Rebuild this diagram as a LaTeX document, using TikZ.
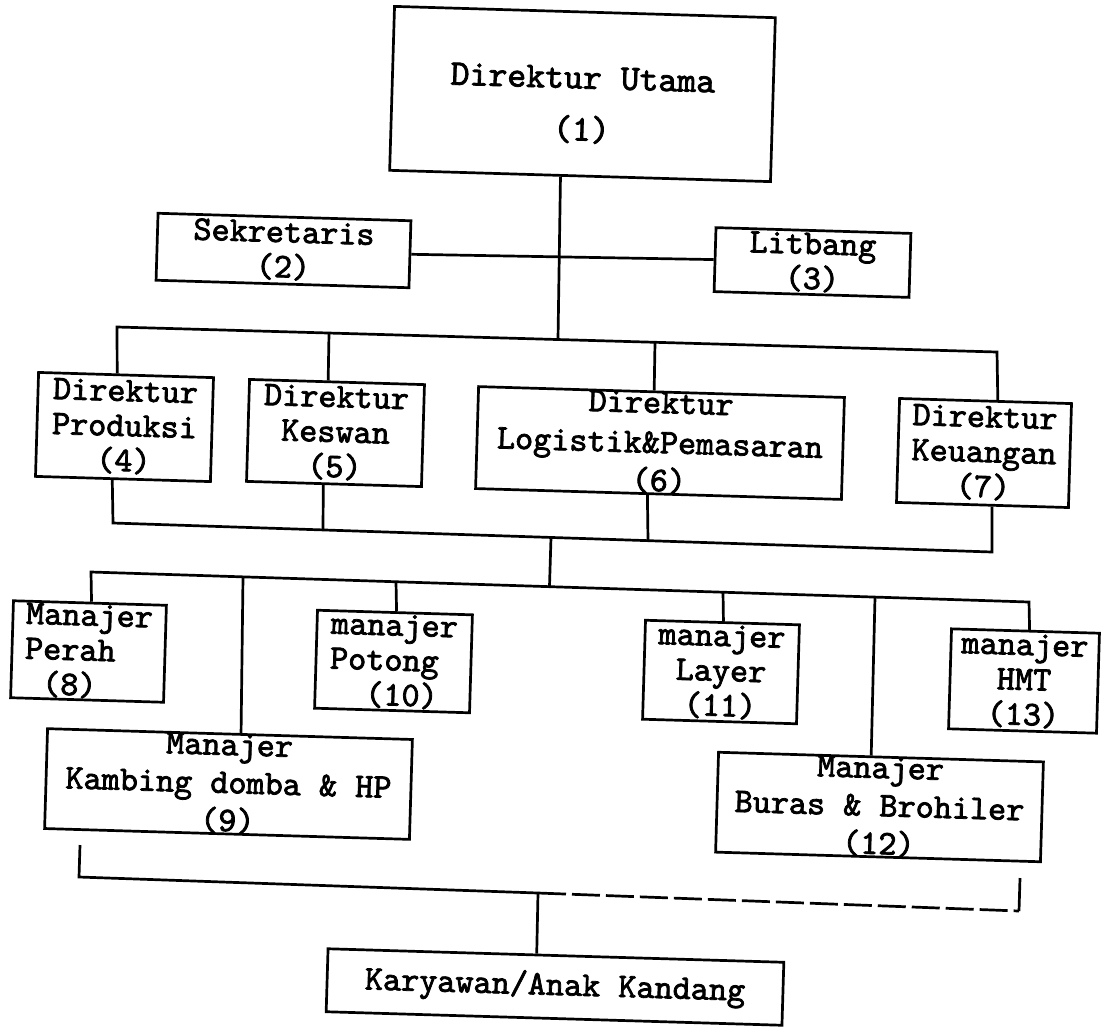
\documentclass[tikz,border=0pt]{standalone}
\usepackage{fontspec}
\newfontfamily\orgfont{lmmono10-regular.otf}[FakeBold=2.2]
\usetikzlibrary{calc}
\begin{document}
\begin{tikzpicture}[x=1pt,y=-1pt]
\tikzset{
  box/.style={draw, line width=2.7pt, rotate=-1.7, inner sep=0pt, align=center,
    font=\orgfont\fontsize{34.5}{35}\selectfont},
  lbox/.style={box, align=left},
  conn/.style={line width=2.7pt},
}
\fill[white] (0,0) rectangle (1102,1026);
\useasboundingbox (0,0) rectangle (1102,1026);

% boxes
\node[box, font=\orgfont\fontsize{36}{36}\selectfont, minimum width=381pt, minimum height=164pt] (b1) at (582.5,94) {\rule{0pt}{44pt}Direktur Utama\\[16pt](1)};
\node[box, minimum width=253pt, minimum height=67pt] (b2) at (283.5,250.5) {Sekretaris\\(2)};
\node[box, minimum width=195pt, minimum height=64pt] (b3) at (812.5,262.5) {Litbang\\(3)};
\node[box, minimum width=175pt, minimum height=104pt] (b4) at (124.5,427) {Direktur\\Produksi\\(4)};
\node[box, minimum width=175pt, minimum height=102pt] (b5) at (335.5,433) {Direktur\\Keswan\\(5)};
\node[box, minimum width=366pt, minimum height=102pt] (b6) at (660,443) {Direktur\\[5pt]Logistik\&Pemasaran\\[3pt](6)};
\node[box, minimum width=172pt, minimum height=104pt] (b7) at (984,453) {Direktur\\Keuangan\\(7)};
\node[lbox, minimum width=153pt, minimum height=97pt] (b8) at (88.5,651.5) {Manajer\\Perah\\\ (8)};
\node[box, minimum width=365pt, minimum height=96pt] (b9) at (228.5,784) {Manajer\\[3pt]Kambing domba \& HP\\[3pt](9)};
\node[lbox, minimum width=155pt, minimum height=98pt] (b10) at (393.5,661.5) {manajer\\Potong\\\ \ (10)};
\node[box, minimum width=154pt, minimum height=99pt] (b11) at (721,672) {manajer\\Layer\\(11)};
\node[box, minimum width=325pt, minimum height=98pt] (b12) at (879.5,807) {Manajer\\[3pt]Buras \& Brohiler\\[3pt](12)};
\node[box, minimum width=148pt, minimum height=100pt] (b13) at (1024,681) {manajer\\HMT\\(13)};
\node[box, minimum width=456pt, minimum height=63pt] (b14) at (555,987) {Karyawan/Anak Kandang};

% junction coordinates
\coordinate (u1) at (558,339);
\coordinate (bus1L) at (117,327);
\coordinate (bus1R) at (997,352);
\coordinate (j5) at (329,333);
\coordinate (j6) at (655,342);
\coordinate (bus2L) at (113,523);
\coordinate (bus2R) at (992,552);
\coordinate (k5) at (323,530);
\coordinate (k6) at (648,541);
\coordinate (kc) at (551,537.5);
\coordinate (mc) at (549.5,586);
\coordinate (bus3L) at (91,572);
\coordinate (bus3R) at (1029,602);
\coordinate (m9) at (243,577);
\coordinate (m10) at (396,582);
\coordinate (m11) at (723,592);
\coordinate (m12) at (875,597);
\coordinate (f1) at (80,845);
\coordinate (f2) at (79,877);
\coordinate (f3) at (538,893);
\coordinate (f4) at (1019,911);
\coordinate (f5) at (1020,878);

% connectors
\draw[conn] ($(b1.south west)!0.449!(b1.south east)$) -- (u1);
\draw[conn] (b2.east) -- (b3.west);
\draw[conn] ($(b4.north west)!0.45!(b4.north east)$) -- (bus1L) -- (bus1R) -- ($(b7.north west)!0.57!(b7.north east)$);
\draw[conn] (j5) -- ($(b5.north west)!0.45!(b5.north east)$);
\draw[conn] (j6) -- ($(b6.north west)!0.48!(b6.north east)$);

\draw[conn] ($(b4.south west)!0.44!(b4.south east)$) -- (bus2L) -- (bus2R) -- ($(b7.south west)!0.555!(b7.south east)$);
\draw[conn] ($(b5.south west)!0.44!(b5.south east)$) -- (k5);
\draw[conn] ($(b6.south west)!0.47!(b6.south east)$) -- (k6);
\draw[conn] (kc) -- (mc);

\draw[conn] ($(b8.north west)!0.51!(b8.north east)$) -- (bus3L) -- (bus3R) -- ($(b13.north west)!0.527!(b13.north east)$);
\draw[conn] (m9) -- ($(b9.north west)!0.53!(b9.north east)$);
\draw[conn] (m10) -- ($(b10.north west)!0.51!(b10.north east)$);
\draw[conn] (m11) -- ($(b11.north west)!0.506!(b11.north east)$);
\draw[conn] (m12) -- ($(b12.north west)!0.47!(b12.north east)$);

\draw[conn] (f1) -- (f2) -- (f3);
\draw[conn, dash pattern=on 28pt off 6pt] (f3) -- (f4);
\draw[conn] (f4) -- (f5);
\draw[conn] (f3) -- ($(b14.north west)!0.458!(b14.north east)$);
\end{tikzpicture}
\end{document}
